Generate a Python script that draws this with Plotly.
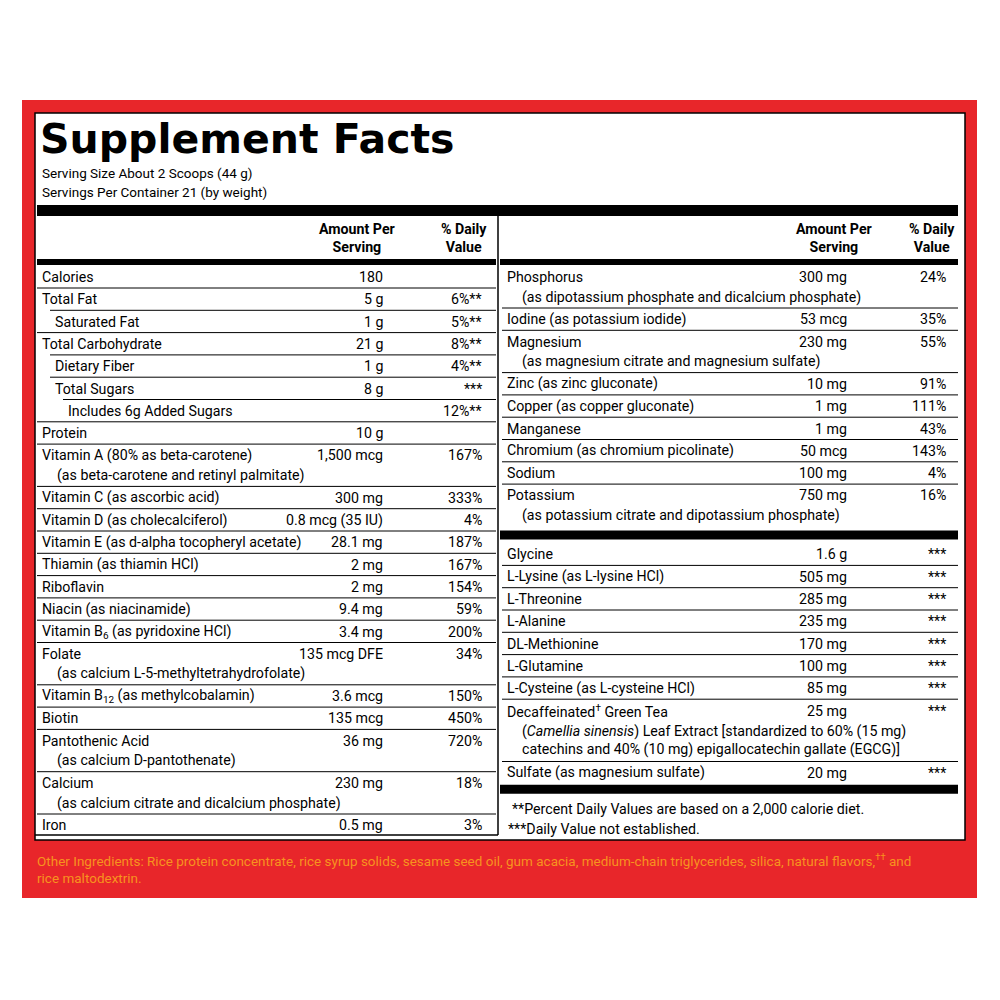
import plotly.graph_objects as go

# ---- data ----
left_names = ["Calories", "Total Fat", "Saturated Fat", "Total Carbohydrate", "Dietary Fiber", "Total Sugars",
              "Includes 6g Added Sugars", "Protein", "Vitamin A (80% as beta-carotene)", "Vitamin C (as ascorbic acid)",
              "Vitamin D (as cholecalciferol)", "Vitamin E (as d-alpha tocopheryl acetate)", "Thiamin (as thiamin HCl)",
              "Riboflavin", "Niacin (as niacinamide)", "Vitamin B<sub>6</sub> (as pyridoxine HCl)", "Folate",
              "Vitamin B<sub>12</sub> (as methylcobalamin)", "Biotin", "Pantothenic Acid", "Calcium", "Iron"]
left_sub = ["", "", "", "", "", "", "", "", "(as beta-carotene and retinyl palmitate)", "", "", "", "", "", "", "",
            "(as calcium L-5-methyltetrahydrofolate)", "", "", "(as calcium D-pantothenate)",
            "(as calcium citrate and dicalcium phosphate)", ""]
left_indent = [0, 0, 1, 0, 1, 1, 2, 0, 0, 0, 0, 0, 0, 0, 0, 0, 0, 0, 0, 0, 0, 0]
left_amount = ["180", "5 g", "1 g", "21 g", "1 g", "8 g", "", "10 g", "1,500 mcg", "300 mg", "0.8 mcg (35 IU)",
               "28.1 mg", "2 mg", "2 mg", "9.4 mg", "3.4 mg", "135 mcg DFE", "3.6 mcg", "135 mcg", "36 mg",
               "230 mg", "0.5 mg"]
left_dv = ["", "6%**", "5%**", "8%**", "4%**", "***", "12%**", "", "167%", "333%", "4%", "187%", "167%", "154%",
           "59%", "200%", "34%", "150%", "450%", "720%", "18%", "3%"]

right1_names = ["Phosphorus", "Iodine (as potassium iodide)", "Magnesium", "Zinc (as zinc gluconate)",
                "Copper (as copper gluconate)", "Manganese", "Chromium (as chromium picolinate)", "Sodium", "Potassium"]
right1_sub = ["(as dipotassium phosphate and dicalcium phosphate)", "",
              "(as magnesium citrate and magnesium sulfate)", "", "", "", "", "",
              "(as potassium citrate and dipotassium phosphate)"]
right1_amount = ["300 mg", "53 mcg", "230 mg", "10 mg", "1 mg", "1 mg", "50 mcg", "100 mg", "750 mg"]
right1_dv = ["24%", "35%", "55%", "91%", "111%", "43%", "143%", "4%", "16%"]

right2_names = ["Glycine", "L-Lysine (as L-lysine HCl)", "L-Threonine", "L-Alanine", "DL-Methionine", "L-Glutamine",
                "L-Cysteine (as L-cysteine HCl)", "Decaffeinated<sup>†</sup> Green Tea", "Sulfate (as magnesium sulfate)"]
right2_sub = ["", "", "", "", "", "", "",
              "(<i>Camellia sinensis</i>) Leaf Extract [standardized to 60% (15 mg)<br>catechins and 40% (10 mg) epigallocatechin gallate (EGCG)]",
              ""]
right2_amount = ["1.6 g", "505 mg", "285 mg", "235 mg", "170 mg", "100 mg", "85 mg", "25 mg", "20 mg"]
right2_dv = ["***"] * 9

footnotes = ["**Percent Daily Values are based on a 2,000 calorie diet.", "***Daily Value not established."]
other_ingredients = ("Other Ingredients: Rice protein concentrate, rice syrup solids, sesame seed oil, gum acacia, "
                     "medium-chain triglycerides, silica, natural flavors,<sup>††</sup> and<br>rice maltodextrin.")

# ---- drawing ----
FONT = "Liberation Sans Narrow, Roboto, Liberation Sans, sans-serif"
FS = 14.2
RED = "#E8262A"
fig = go.Figure()
shapes, ann = [], []

def text(x, y, t, anchor="left", size=FS, color="black", bold=False, valign="middle"):
    if not t:
        return
    ann.append(dict(x=x, y=y, text=(f"<b>{t}</b>" if bold else t), xanchor=anchor, yanchor=valign,
                    showarrow=False, align=anchor if anchor != "center" else "center",
                    font=dict(family=FONT, size=size, color=color)))

def rect(x0, y0, x1, y1, fill, line=None, lw=0):
    shapes.append(dict(type="rect", x0=x0, x1=x1, y0=y0, y1=y1, fillcolor=fill,
                       line=dict(color=line or fill, width=lw), layer="below"))

def hline(x0, x1, y, w=1):
    shapes.append(dict(type="line", x0=x0, x1=x1, y0=y, y1=y, line=dict(color="black", width=w)))

rect(22, 100, 977, 898, RED)
rect(35, 113, 965, 840, "white", "black", 1.5)
ann.append(dict(x=38, y=139, text="<b>Supplement Facts</b>", xanchor="left", yanchor="middle", showarrow=False,
                font=dict(family="DejaVu Sans, Liberation Sans", size=41, color="black")))
text(40, 173, "Serving Size About 2 Scoops (44 g)", size=13.5)
text(40, 192, "Servings Per Container 21 (by weight)", size=13.5)
rect(37, 205, 958, 216, "black")
shapes.append(dict(type="line", x0=498, x1=498, y0=216, y1=835, line=dict(color="black", width=1.5)))
for xa, xd in [(357, 464), (834, 932)]:
    text(xa, 238, "Amount Per<br>Serving", anchor="center", bold=True)
    text(xd, 238, "% Daily<br>Value", anchor="center", bold=True)
rect(37, 259, 496, 265, "black")
rect(500, 259, 958, 265, "black")

STEP, SUB = 22.3, 20

def column(names, subs, amounts, dvs, indents, x0, x1, xa, xd, y):
    for i, n in enumerate(names):
        ind = indents[i] if indents else 0
        text(x0 + 5 + ind * 13, y, n)
        text(xa, y, amounts[i], anchor="right")
        text(xd, y, dvs[i], anchor="right")
        nsub = subs[i].count("<br>") + 1 if subs[i] else 0
        if nsub:
            text(x0 + 20, y + SUB * (nsub + 1) / 2, subs[i])
        y_end = y + nsub * SUB
        if i < len(names) - 1:
            nind = indents[i + 1] if indents else 0
            hline(x0 + 2 + nind * 13, x1, y_end + 11)
        y = y_end + STEP
    return y

column(left_names, left_sub, left_amount, left_dv, left_indent, 35, 496, 385, 484, 277)
y = column(right1_names, right1_sub, right1_amount, right1_dv, None, 500, 958, 849, 948, 277)
ybar = y - STEP + 15
rect(500, ybar, 958, ybar + 9, "black")
y = column(right2_names, right2_sub, right2_amount, right2_dv, None, 500, 958, 849, 948, ybar + 24)
ybar2 = y - STEP + 12
rect(500, ybar2, 958, ybar2 + 9, "black")
text(510, ybar2 + 24, footnotes[0])
text(506, ybar2 + 44, footnotes[1])
hline(35, 498, 835, 1.5)
text(35, 868, other_ingredients, color="#F7931E", size=13.5)

fig.update_layout(width=984, height=984, margin=dict(l=0, r=0, t=0, b=0),
                  paper_bgcolor="white", plot_bgcolor="white", shapes=shapes, annotations=ann,
                  xaxis=dict(range=[8, 992], visible=False, fixedrange=True),
                  yaxis=dict(range=[992, 8], visible=False, fixedrange=True))
fig.write_html("out.html")
